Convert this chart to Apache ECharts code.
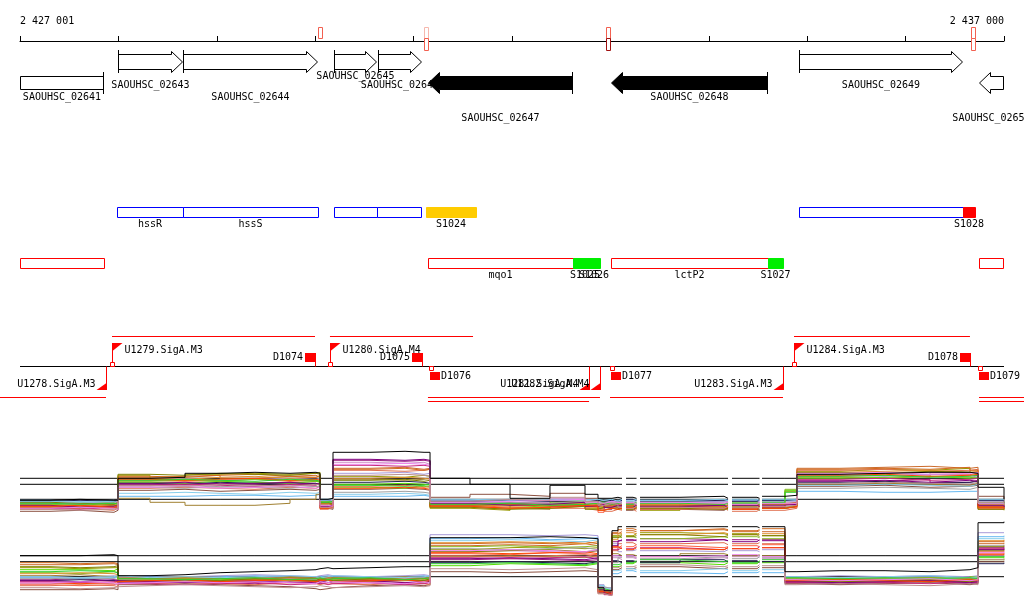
<!DOCTYPE html>
<html><head><meta charset="utf-8">
<script src="https://cdn.jsdelivr.net/npm/echarts@6/dist/echarts.min.js"></script>
<style>html,body{margin:0;padding:0;background:#fff}#c{width:1024px;height:611px}</style>
</head><body><div id="c"></div>
<script>
// ================= DATA =================
const scaleStart = 2427001, scaleEnd = 2437000, tickStep = 1000;

const geneNames   = ['SAOUHSC_02641','SAOUHSC_02643','SAOUHSC_02644','SAOUHSC_02645','SAOUHSC_02646','SAOUHSC_02647','SAOUHSC_02648','SAOUHSC_02649','SAOUHSC_02650'];
const geneStarts  = [2426700,2427996,2428657,2430191,2430638,2431147,2433006,2434917,2436746];
const geneEnds    = [2427854,2428657,2430029,2430628,2431086,2432620,2434602,2436583,2437300];
const geneStrands = ['-','+','+','+','+','-','-','+','-'];
const highlightedGenes = ['SAOUHSC_02647','SAOUHSC_02648'];

const signalPositions = [2430049,2431131,2432971,2436690];
const signalPlus      = [0.6,0.25,0.6,0.6];
const signalMinus     = [0,0.6,1.0,0.6];

const annotANames  = ['hssR','hssS','','','S1024','','S1028'];
const annotAStarts = [2427986,2428657,2430191,2430628,2431126,2434917,2436583];
const annotAEnds   = [2428657,2430029,2430628,2431075,2431634,2436583,2436705];
const annotAKinds  = ['cds','cds','cds','cds','sRNA_new','cds','sRNA_known'];

const annotBNames  = ['','mqo1','S1025','S1026','lctP2','S1027',''];
const annotBStarts = [2426700,2431146,2432620,2432772,2433006,2434602,2436746];
const annotBEnds   = [2427854,2432620,2432864,2432894,2434602,2434754,2437300];
const annotBKinds  = ['gene','gene','sRNA','sRNA','gene','sRNA','gene'];

const tuStrands = ['+','+','+','-','-','-','-','-','-'];
const tuStarts  = [2427935,2430150,2434866,2426700,2431146,2431146,2432996,2436746,2436746];
const tuEnds    = [2429998,2431604,2436654,2427874,2432894,2432783,2434754,2437400,2437400];

const promoterNames   = ['U1278.SigA.M3','U1279.SigA.M3','U1280.SigA.M4','U1281.SigA.M4','U1282.SigA.M4','U1283.SigA.M3','U1284.SigA.M3'];
const promoterPos     = [2427874,2427935,2430150,2432783,2432894,2434754,2434866];
const promoterStrands = ['-','+','+','-','-','-','+'];

const terminatorNames   = ['D1074','D1075','D1076','D1077','D1078','D1079'];
const terminatorPos     = [2429998,2431085,2431167,2433006,2436654,2436746];
const terminatorStrands = ['+','+','-','-','+','-'];

const exprPos = [2427000,2427305,2427610,2427955,2427996,2428321,2428677,2429033,2429388,2429744,2430008,2430049,2430130,2430181,2430557,2430913,2431106,2431167,2431573,2431980,2432386,2432742,2432874,2432935,2433016,2433077,2433159,2433230,2433301,2433707,2434155,2434236,2434490,2434541,2434774,2434896,2435333,2435791,2436248,2436654,2436736,2437000];
const exprGaps = [[2433077,2433159],[2433230,2433301],[2434155,2434236],[2434490,2434541]];
const refLevels = [10.0, 9.4, 7.9];

// forward strand (upper panel), log2 signal
const fwdBlack = [7.8,7.9,7.8,7.8, 10.0,10.1,10.5,10.6,10.5,10.6,10.5, 7.9,8.0, 12.6,12.7,12.6,12.6, 10.0,9.4,8.0,9.3,8.4,8.0,8.0,8.1, 8.0,8.1,8.0,8.1,8.2,8.0,8.1,8.0,8.2,8.3, 10.4,10.5,10.6,10.6,10.5, 9.1,7.9];
const fwd01 = [7.2,7.0,7.3,7.1, 10.1,10.2,10.3,10.0,10.2,10.3,10.1, 7.6,7.4, 11.0,11.1,10.9,11.0, 7.6,7.4,7.2,7.7,7.3,7.0,7.4,7.2, 7.3,7.5,7.2,7.4,7.1,7.3,7.4,7.2,7.5,7.8, 11.0,11.1,11.2,11.0,11.1, 7.5,7.3];
const fwd02 = [7.5,7.6,7.4,7.5, 10.3,9.9,10.4,10.5,10.4,10.5,10.6, 7.5,7.3, 10.2,10.1,10.3,10.2, 7.0,6.8,7.4,7.8,7.0,6.9,7.3,7.1, 6.9,7.1,7.0,6.8,7.2,6.9,7.0,6.8,7.1,8.7, 10.7,10.9,10.8,11.0,10.6, 7.0,6.8];
const fwd03 = [7.0,7.2,7.1,6.9, 9.4,9.3,9.5,9.4,9.6,9.5,9.4, 7.3,7.2, 11.8,11.7,11.8,11.7, 7.4,7.6,7.5,7.2,7.3,7.6,6.9,7.2, 7.4,7.2,7.3,7.1,7.4,7.2,7.3,7.4,7.2,7.5, 9.8,9.7,9.9,9.6,9.8, 7.2,7.0];
const fwd04 = [7.3,7.4,7.2,7.4, 9.8,9.7,9.8,9.9,9.7,9.8,9.6, 7.1,7.0, 9.2,9.3,9.1,9.2, 7.3,7.1,7.0,7.2,7.4,6.6,7.1,7.0, 7.1,7.0,7.2,7.0,6.9,7.1,7.0,7.2,7.0,7.1, 10.2,10.3,10.1,10.4,10.2, 7.0,6.9];
const fwd05 = [7.8,7.7,7.8,7.7, 8.2,8.2,8.3,8.3,8.2,8.3,8.4, 7.9,7.8, 8.2,8.2,8.3,8.2, 7.8,7.9,7.8,7.9,7.8,7.6,7.7,7.8, 7.8,7.7,7.8,7.8,7.7,7.8,7.8,7.7,7.8,7.8, 8.7,8.6,8.6,8.7,8.7, 7.8,7.7];
const fwd06 = [7.4,7.5,7.6,7.3, 9.6,9.5,9.7,9.6,9.5,9.7,9.6, 7.7,7.6, 9.4,9.5,9.4,9.3, 7.5,7.3,7.1,7.5,7.6,7.7,7.5,7.4, 7.5,7.6,7.5,7.6,7.4,7.5,7.6,7.5,7.6,8.8, 10.0,10.1,10.2,10.0,10.1, 7.6,7.4];
const fwd07 = [7.1,7.3,7.2,7.0, 9.2,9.3,9.1,9.2,9.3,9.2,9.1, 7.2,7.4, 11.6,11.5,11.6,11.4, 7.7,7.5,7.6,8.0,7.5,7.3,7.6,7.5, 7.6,7.4,7.6,7.5,7.6,7.7,7.5,7.6,7.4,7.6, 10.4,10.5,10.3,10.6,10.4, 7.4,7.6];
const fwd08 = [7.6,7.5,7.7,7.6, 9.9,10.0,9.8,9.9,10.0,9.9,10.0, 7.8,7.7, 10.5,10.6,10.4,10.5, 7.6,7.8,7.7,7.9,7.7,7.5,7.8,7.6, 7.7,7.6,7.7,7.6,7.7,7.6,7.7,7.6,7.7,7.7, 10.3,10.2,10.4,10.3,10.1, 7.7,7.5];
const fwd09 = [6.7,6.8,6.6,6.8, 8.8,8.9,8.7,8.8,8.9,8.8,8.9, 7.0,6.9, 8.9,9.0,8.9,8.8, 8.1,8.4,8.2,8.5,8.0,7.2,7.5,7.4, 7.0,6.8,7.0,6.9,6.8,7.0,6.9,6.8,7.0,7.2, 9.2,9.3,9.1,9.2,9.3, 8.2,7.1];
const fwd10 = [7.7,7.8,7.7,7.8, 9.5,9.4,9.6,9.5,9.4,9.5,9.3, 7.8,7.9, 9.6,9.7,9.6,9.5, 7.7,7.8,7.7,7.6,7.8,7.7,7.8,7.7, 7.8,7.9,7.8,7.7,7.8,7.9,7.7,7.8,7.8,7.9, 9.6,9.7,9.5,9.6,9.7, 7.8,7.8];
const fwd11 = [7.2,7.1,7.3,7.2, 8.0,7.6,7.3,7.3,7.5,7.9,8.4, 7.4,7.5, 9.9,9.8,9.9,10.0, 7.2,7.0,6.9,7.3,7.1,6.8,7.0,7.1, 7.2,7.3,7.1,7.2,7.3,7.1,7.2,7.3,7.1,7.3, 9.4,9.5,9.4,9.3,9.5, 7.1,7.2];
const fwd12 = [6.9,7.0,6.8,7.0, 9.0,9.1,9.0,8.9,9.1,9.0,9.2, 6.9,7.1, 10.8,10.7,10.8,10.9, 7.1,6.9,7.3,7.0,6.8,7.0,6.7,6.9, 6.8,6.9,6.7,6.9,7.0,6.8,6.7,6.9,6.8,7.0, 10.8,10.9,10.7,10.8,10.9, 6.9,7.1];
const fwd13 = [7.4,7.3,7.5,7.4, 9.7,9.8,9.7,9.9,9.8,9.7,9.9, 7.5,7.6, 9.1,9.0,9.2,9.1, 7.2,7.4,7.0,7.6,7.4,7.1,7.3,7.2, 7.3,7.2,7.4,7.3,7.2,7.4,7.3,7.2,7.4,8.9, 10.1,10.0,10.2,10.1,10.0, 7.3,7.5];
const fwd14 = [7.0,6.9,7.1,7.0, 9.3,9.4,9.3,9.2,9.4,9.3,9.5, 7.1,7.2, 11.3,11.2,11.3,11.2, 7.3,7.5,7.4,7.3,7.2,7.4,7.3,7.5, 7.2,7.4,7.3,7.1,7.3,7.2,7.4,7.3,7.1,7.4, 9.9,10.0,9.8,9.9,10.0, 7.2,7.3];
const fwd15 = [7.5,7.4,7.6,7.5, 9.1,9.0,9.2,9.1,9.0,9.2,9.1, 7.6,7.5, 8.6,8.7,8.6,8.5, 7.5,7.6,7.5,7.7,7.6,7.4,7.5,7.6, 7.5,7.4,7.5,7.6,7.5,7.4,7.5,7.6,7.5,7.6, 9.0,9.1,9.0,8.9,9.1, 7.5,7.4];
const fwd16 = [7.3,7.2,7.4,7.3, 10.0,9.9,10.1,10.2,10.0,10.1,10.2, 7.3,7.2, 10.0,10.1,10.0,9.9, 7.4,7.2,7.3,7.5,7.1,7.2,7.0,7.3, 7.4,7.3,7.2,7.4,7.3,7.2,7.4,7.3,7.2,7.5, 10.6,10.7,10.8,10.6,10.7, 7.4,7.2];
const fwd17 = [7.1,7.2,7.0,7.1, 10.2,10.1,10.3,10.4,10.2,10.1,10.3, 7.5,7.3, 10.9,11.0,10.8,10.9, 7.3,7.4,7.2,7.4,7.3,7.5,7.2,7.4, 7.2,7.3,7.1,7.3,7.2,7.3,7.1,7.2,7.4,7.6, 10.9,11.0,10.9,11.1,10.8, 7.2,7.1];
const fwd18 = [7.6,7.5,7.4,7.6, 10.4,10.3,10.5,10.4,10.3,10.5,10.4, 7.6,7.4, 9.8,9.9,9.7,9.8, 7.1,6.9,7.0,7.2,6.9,7.1,7.0,6.9, 7.0,6.9,7.1,7.0,6.9,7.0,7.1,6.9,7.0,7.2, 10.6,10.5,10.7,10.6,10.5, 6.9,7.0];
const fwd19 = [7.3,7.1,7.2,7.3, 9.5,9.6,9.4,9.5,9.6,9.4,9.5, 7.2,7.3, 11.9,11.8,11.9,11.8, 7.5,7.3,7.4,7.6,7.2,7.4,7.1,7.3, 7.3,7.1,7.3,7.2,7.3,7.1,7.3,7.2,7.3,7.4, 9.7,9.8,9.6,9.8,9.7, 7.3,7.1];
const fwd20 = [7.2,7.3,7.1,7.3, 9.9,9.8,9.9,10.0,9.8,9.9,9.8, 7.0,7.1, 9.0,9.1,9.0,8.9, 7.2,7.0,7.1,7.3,7.2,6.8,7.0,6.9, 7.0,7.1,6.9,7.1,7.0,7.1,6.9,7.1,7.0,7.2, 10.3,10.4,10.2,10.3,10.4, 7.1,7.0];
const fwd21 = [7.7,7.6,7.7,7.8, 8.5,8.6,8.5,8.4,8.6,8.5,8.6, 7.8,7.9, 8.4,8.5,8.4,8.3, 7.9,7.8,7.9,7.8,7.9,7.8,7.9,7.7, 7.9,7.8,7.9,7.8,7.9,7.8,7.9,7.8,7.9,7.9, 9.3,9.4,9.3,9.2,9.4, 7.9,7.8];
const fwd22 = [7.5,7.4,7.5,7.4, 9.8,9.9,9.8,9.7,9.9,9.8,9.7, 7.6,7.7, 9.3,9.2,9.3,9.4, 7.4,7.5,7.3,7.4,7.5,7.6,7.4,7.5, 7.5,7.4,7.6,7.5,7.4,7.6,7.5,7.4,7.6,8.6, 10.2,10.3,10.1,10.2,10.3, 7.5,7.6];
const fwd23 = [7.0,7.1,7.0,6.9, 9.1,9.2,9.0,9.1,9.2,9.0,9.1, 7.3,7.2, 11.4,11.5,11.4,11.3, 7.6,7.7,7.8,7.9,7.6,7.5,7.7,7.6, 7.5,7.6,7.4,7.6,7.5,7.6,7.4,7.6,7.5,7.5, 10.5,10.6,10.4,10.5,10.6, 7.5,7.4];
const fwd24 = [6.9,6.8,6.9,7.0, 9.3,9.2,9.4,9.3,9.2,9.4,9.3, 7.1,7.0, 10.3,10.4,10.3,10.2, 7.7,7.9,7.8,8.1,7.7,7.3,7.5,7.4, 7.1,7.0,7.2,7.1,7.0,7.2,7.1,7.0,7.2,7.3, 9.5,9.6,9.5,9.4,9.6, 7.6,7.3];

// reverse strand (lower panel), log2 signal
const revBlack = [10.0,10.0,10.1,10.0, 8.0,8.1,8.3,8.4,8.5,8.6,8.7,8.8,8.7,8.8,8.9,8.9,8.9, 11.8,11.8,11.9,11.8,11.7, 6.8,6.5, 12.5, 12.9,12.9,12.9,12.9,12.9,12.9,12.9,12.8,12.9, 8.4,8.5,8.5,8.4,8.6,8.8, 13.3,13.4];
const rev01 = [9.1,9.1,9.2,9.1, 7.8,7.7,7.9,7.8,7.7,7.8,7.9,7.8,7.7,7.8,7.9,7.8,7.9, 11.0,11.1,11.0,11.2,11.0, 6.4,6.2, 12.2, 12.4,12.5,12.4,12.5,12.6,12.5,12.4,12.5,12.4, 7.6,7.5,7.7,7.6,7.5,7.6, 11.2,11.3];
const rev02 = [8.8,8.7,8.8,8.8, 7.6,7.5,7.7,7.6,7.8,7.7,7.6,7.5,7.7,7.6,7.8,7.7,7.6, 10.6,10.8,10.9,10.7,10.8, 6.6,6.3, 12.0, 12.1,12.0,12.2,12.3,12.2,12.1,12.2,12.1,12.0, 7.4,7.6,7.5,7.4,7.6,7.5, 10.5,10.6];
const rev03 = [7.6,7.7,7.5,7.6, 7.3,7.4,7.3,7.2,7.4,7.3,7.2,7.3,7.4,7.3,7.2,7.4,7.3, 9.6,9.7,9.6,9.5,9.6, 6.7,6.4, 11.4, 11.6,11.5,11.6,11.7,11.6,11.5,11.6,11.5,11.6, 7.3,7.2,7.3,7.4,7.2,7.3, 10.8,10.9];
const rev04 = [7.1,7.0,7.1,7.2, 7.6,7.7,7.5,7.6,7.7,7.6,7.5,7.6,7.7,7.5,7.6,7.7,7.6, 10.2,10.1,10.3,10.2,10.1, 6.5,6.2, 10.8, 11.0,10.9,11.1,11.0,10.8,10.9,11.0,10.9,11.1, 7.5,7.4,7.5,7.6,7.4,7.5, 10.2,10.3];
const rev05 = [7.8,7.7,7.8,7.9, 7.9,7.8,7.9,8.0,7.9,7.8,7.9,8.0,7.9,7.8,7.9,8.0,7.9, 11.7,11.8,11.6,11.7,11.8, 7.0,6.6, 8.2, 8.4,8.5,8.4,8.3,8.2,8.4,8.3,8.4,8.3, 7.8,7.7,7.8,7.9,7.8,7.7, 11.9,12.0];
const rev06 = [8.6,8.6,8.5,8.7, 7.7,7.8,7.6,7.7,7.8,7.7,7.6,7.7,7.8,7.7,7.6,7.8,7.7, 9.0,9.2,9.1,9.0,9.2, 6.8,6.5, 8.9, 9.0,9.2,9.4,9.3,9.1,9.3,9.2,9.4,9.3, 7.7,7.8,7.7,7.8,7.7,7.8, 9.8,9.9];
const rev07 = [7.2,7.3,7.2,7.1, 7.4,7.5,7.4,7.3,7.5,7.4,7.3,7.5,7.4,7.3,7.5,7.4,7.5, 10.4,10.5,10.4,10.3,10.5, 6.9,6.6, 9.8, 9.6,9.8,9.7,9.6,9.8,9.7,9.9,9.8,9.7, 7.6,7.7,7.6,7.5,7.7,7.6, 10.0,10.1];
const rev08 = [7.9,7.8,8.0,7.9, 8.0,7.9,8.0,8.1,8.0,7.9,8.0,8.1,8.0,7.9,8.0,8.1,8.0, 12.1,12.1,12.0,12.1,12.0, 7.1,6.8, 11.2, 10.4,10.5,10.6,10.5,10.4,10.6,10.5,10.4,10.6, 7.9,8.0,7.9,8.0,7.9,8.0, 12.3,12.3];
const rev09 = [6.6,6.6,6.7,6.6, 7.1,7.2,7.1,7.0,6.9,6.7,6.6,6.7,6.8,7.0,7.1,7.0,7.1, 8.4,8.3,8.4,8.5,8.4, 6.3,6.1, 8.6, 8.8,8.7,8.8,8.9,8.7,8.8,8.7,8.9,8.8, 7.2,7.1,7.2,7.3,7.1,7.2, 9.4,9.5];
const rev10 = [7.5,7.6,7.5,7.4, 7.5,7.6,7.5,7.4,7.6,7.5,7.4,7.6,7.5,7.4,7.6,7.5,7.4, 9.3,9.4,9.3,9.2,9.4, 6.6,6.3, 9.5, 9.3,9.5,9.4,9.3,9.6,9.4,9.5,9.3,9.4, 7.5,7.4,7.6,7.5,7.4,7.5, 9.2,9.3];
const rev11 = [8.0,8.1,7.9,8.0, 7.8,7.9,7.8,7.7,7.9,7.8,7.7,7.9,7.8,7.7,7.9,7.8,7.7, 9.9,10.0,9.9,9.8,10.0, 6.7,6.4, 10.2, 10.0,10.1,10.0,9.9,10.2,10.1,10.0,10.1,10.0, 7.7,7.6,7.7,7.8,7.6,7.7, 10.6,10.7];
const rev12 = [7.0,7.1,7.0,6.9, 7.2,7.3,7.2,7.1,7.3,7.2,7.1,7.3,7.2,7.1,7.3,7.2,7.1, 10.0,9.9,10.0,10.1,9.9, 6.2,6.0, 10.5, 11.2,11.3,11.1,11.2,11.3,11.1,11.2,11.3,11.2, 7.4,7.3,7.4,7.5,7.3,7.4, 10.4,10.5];
const rev13 = [8.3,8.2,8.4,8.3, 7.6,7.7,7.8,7.7,7.6,7.7,7.8,7.7,7.6,7.7,7.8,7.7,7.6, 10.9,11.0,10.8,10.9,11.0, 6.7,6.4, 11.9, 11.8,11.9,11.8,11.7,11.9,11.8,11.9,11.8,11.7, 7.7,7.6,7.7,7.8,7.6,7.9, 9.6,9.7];
const rev14 = [7.4,7.3,7.4,7.5, 7.2,7.1,7.2,7.3,7.1,7.2,7.3,7.1,7.2,7.3,7.1,7.2,7.3, 9.8,9.7,9.8,9.9,9.7, 6.4,6.1, 10.6, 10.8,10.7,10.9,10.8,10.6,10.8,10.7,10.9,10.8, 7.3,7.4,7.3,7.2,7.4,7.3, 10.7,10.8];
const rev15 = [7.7,7.8,7.7,7.6, 7.7,7.6,7.7,7.8,7.7,7.6,7.7,7.8,7.7,7.6,7.7,7.8,7.7, 10.7,10.6,10.7,10.8,10.6, 6.9,6.7, 9.3, 9.8,9.9,9.8,9.7,9.9,9.8,9.7,9.9,9.8, 7.8,7.7,7.8,7.7,7.8,7.7, 11.0,11.1];
const rev16 = [8.2,8.3,8.2,8.1, 7.5,7.4,7.5,7.6,7.5,7.4,7.5,7.6,7.5,7.4,7.5,7.6,7.5, 11.3,11.4,11.3,11.2,11.4, 6.6,6.3, 11.6, 12.2,12.3,12.2,12.1,12.3,12.2,12.1,12.3,12.2, 7.6,7.5,7.6,7.7,7.5,7.6, 11.5,11.6];
const rev17 = [9.3,9.2,9.3,9.2, 7.7,7.8,7.7,7.6,7.8,7.7,7.6,7.8,7.7,7.6,7.8,7.7,7.8, 11.2,11.3,11.2,11.4,11.2, 6.5,6.3, 12.3, 12.6,12.7,12.6,12.5,12.7,12.6,12.5,12.6,12.7, 7.6,7.7,7.6,7.5,7.7,7.6, 11.4,11.5];
const rev18 = [8.9,8.8,8.9,9.0, 7.5,7.6,7.5,7.7,7.6,7.5,7.7,7.6,7.5,7.7,7.6,7.5,7.7, 10.4,10.5,10.6,10.4,10.5, 6.6,6.4, 11.8, 12.0,11.9,12.0,12.1,11.9,12.0,12.1,11.9,12.0, 7.5,7.4,7.5,7.6,7.4,7.5, 10.9,11.0];
const rev19 = [7.5,7.4,7.6,7.5, 7.4,7.3,7.4,7.5,7.3,7.4,7.5,7.3,7.4,7.5,7.3,7.4,7.5, 9.7,9.8,9.7,9.6,9.8, 6.6,6.3, 11.0, 11.5,11.6,11.5,11.4,11.6,11.5,11.4,11.6,11.5, 7.4,7.3,7.4,7.5,7.3,7.4, 10.6,10.7];
const rev20 = [7.3,7.2,7.3,7.4, 7.5,7.6,7.4,7.5,7.6,7.4,7.5,7.6,7.4,7.5,7.6,7.4,7.5, 10.3,10.2,10.3,10.4,10.2, 6.4,6.2, 10.9, 10.7,10.6,10.8,10.7,10.6,10.8,10.7,10.6,10.8, 7.5,7.6,7.5,7.4,7.6,7.5, 10.1,10.2];
const rev21 = [7.9,7.8,7.9,8.0, 7.8,7.9,7.8,7.9,8.0,7.9,7.8,7.9,8.0,7.9,7.8,7.9,8.0, 11.5,11.6,11.5,11.4,11.6, 7.0,6.7, 8.5, 8.6,8.7,8.6,8.5,8.7,8.6,8.5,8.7,8.6, 7.9,7.8,7.9,8.0,7.8,7.9, 11.7,11.8];
const rev22 = [8.4,8.5,8.4,8.3, 7.7,7.6,7.7,7.8,7.6,7.7,7.8,7.6,7.7,7.8,7.6,7.7,7.8, 9.2,9.3,9.2,9.1,9.3, 6.7,6.5, 9.1, 9.2,9.3,9.5,9.6,9.4,9.5,9.3,9.5,9.6, 7.8,7.7,7.8,7.7,7.8,7.7, 9.9,10.0];
const rev23 = [7.3,7.4,7.3,7.2, 7.3,7.4,7.3,7.4,7.3,7.2,7.4,7.3,7.4,7.3,7.2,7.4,7.3, 10.5,10.6,10.5,10.4,10.6, 6.8,6.5, 10.0, 9.9,10.0,9.8,9.9,10.0,9.9,10.1,10.0,9.9, 7.6,7.5,7.6,7.7,7.5,7.6, 10.3,10.4];
const rev24 = [6.8,6.7,6.8,6.9, 7.0,7.1,7.0,6.9,6.8,6.9,7.0,6.9,6.8,6.9,7.0,6.9,7.0, 8.7,8.6,8.7,8.8,8.6, 6.2,6.0, 8.8, 9.0,8.9,9.0,9.1,8.9,9.0,8.9,9.1,9.0, 7.1,7.2,7.1,7.0,7.2,7.1, 9.6,9.7];

// ================= STYLE / LAYOUT =================
const FONT = '10px "DejaVu Sans Mono", "Liberation Mono", monospace';
const PALETTE = ['#cc6a2a','#999900','#9b1b80','#ff6040','#66b8f0','#55dd00','#d090c8','#a89ad8','#8b5040','#202050','#a08030','#e07050','#88bb22','#c8287a','#a0a0a0','#e09030',
                 '#d2691e','#808000','#800080','#ff4500','#87ceeb','#32cd32','#ee82ee','#bc8f8f'];
const GENE_LABEL_Y = [97, 85, 97, 76, 85, 118, 97, 85, 118];
const axisMin = scaleStart - 1, axisMax = scaleEnd;
const fmt = n => String(n).replace(/\B(?=(\d{3})+(?!\d))/g, ' ');

function txt(text, x, y, align) {
  return { type: 'text', silent: true, style: { text, x, y, fill: '#000', font: FONT, align: align || 'center', verticalAlign: 'middle', textAlign: align || 'center', textVerticalAlign: 'middle' } };
}
function bounds(params) { const c = params.coordSys; return [c.x, c.x + c.width]; }

// ----- gene track -----
function renderGene(params, api) {
  const i = api.value(2);
  const [L, R] = bounds(params);
  const s = api.coord([api.value(0), 0])[0], e = api.coord([api.value(1), 0])[0];
  const x1 = Math.round(Math.max(s, L)) + 0.5, x2 = Math.round(Math.min(e, R)) - 0.5;
  const cut5 = geneStrands[i] === '+' ? s < L : e > R;
  const cut3 = geneStrands[i] === '+' ? e > R : s < L;
  const fill = highlightedGenes.includes(geneNames[i]) ? '#000' : '#fff';
  const st = { fill, stroke: '#000', lineWidth: 1 };
  const kids = [];
  const head = 11;
  let pts;
  if (geneStrands[i] === '+') {
    const b1 = 54.5, b2 = 69.5, h1 = 51.5, h2 = 72.5, m = 62;
    if (cut3) pts = [[x1,b1],[x2,b1],[x2,b2],[x1,b2]];
    else pts = [[x1,b1],[x2-head,b1],[x2-head,h1],[x2,m],[x2-head,h2],[x2-head,b2],[x1,b2]];
    kids.push({ type: 'polygon', shape: { points: pts }, style: st });
    if (!cut5) kids.push({ type: 'line', shape: { x1: x1, y1: 50, x2: x1, y2: 73 }, style: { stroke: '#000', lineWidth: 1 } });
  } else {
    const b1 = 76.5, b2 = 89.5, h1 = 72.5, h2 = 93.5, m = 83;
    if (cut3) pts = [[x1,b1],[x2,b1],[x2,b2],[x1,b2]];
    else pts = [[x2,b1],[x1+head,b1],[x1+head,h1],[x1,m],[x1+head,h2],[x1+head,b2],[x2,b2]];
    kids.push({ type: 'polygon', shape: { points: pts }, style: st });
    if (!cut5) kids.push({ type: 'line', shape: { x1: x2, y1: 72, x2: x2, y2: 94 }, style: { stroke: '#000', lineWidth: 1 } });
  }
  kids.push(txt(geneNames[i], (x1 + x2) / 2, GENE_LABEL_Y[i]));
  return { type: 'group', children: kids };
}

// ----- signal markers on the scale -----
function markerColor(v) { return v >= 0.9 ? '#a01010' : v >= 0.5 ? '#f26050' : '#f6b8ae'; }
function renderSignal(params, api) {
  const i = api.value(1);
  const x = Math.round(api.coord([api.value(0), 0])[0]) - 1.5;
  const kids = [];
  if (signalPlus[i] > 0) kids.push({ type: 'rect', shape: { x, y: 27.5, width: 4, height: 11 }, style: { fill: '#fff', stroke: markerColor(signalPlus[i]), lineWidth: 1 } });
  if (signalMinus[i] > 0) kids.push({ type: 'rect', shape: { x, y: 38.5, width: 4, height: 12 }, style: { fill: '#fff', stroke: markerColor(signalMinus[i]), lineWidth: 1 } });
  return { type: 'group', children: kids };
}

// ----- annotation boxes -----
const KIND_STYLE = {
  cds: { fill: '#fff', stroke: '#0000ff', lineWidth: 1 },
  sRNA_new: { fill: '#ffcc00', stroke: '#ffcc00', lineWidth: 1 },
  sRNA_known: { fill: '#ff0000', stroke: '#ff0000', lineWidth: 1 },
  gene: { fill: '#fff', stroke: '#ff0000', lineWidth: 1 },
  sRNA: { fill: '#00ee00', stroke: '#00ee00', lineWidth: 1 }
};
function makeAnnotRenderer(names, kinds, yTop, labelY) {
  return function (params, api) {
    const i = api.value(2);
    const [L, R] = bounds(params);
    const x1 = Math.max(Math.round(api.coord([api.value(0), 0])[0]), L);
    const x2 = Math.min(Math.round(api.coord([api.value(1), 0])[0]), R - 1);
    const kids = [{ type: 'rect', shape: { x: x1 + 0.5, y: yTop + 0.5, width: x2 - x1, height: 10 }, style: Object.assign({}, KIND_STYLE[kinds[i]]) }];
    if (names[i]) kids.push(txt(names[i], (x1 + x2) / 2, labelY));
    return { type: 'group', children: kids };
  };
}

// ----- transcription units, promoters, terminators -----
const BASE = 366.5;
function renderTU(params, api) {
  const i = api.value(2), lane = api.value(3);
  const x1 = api.coord([api.value(0), 0])[0], x2 = api.coord([api.value(1), 0])[0];
  const y = tuStrands[i] === '+' ? 336.5 : 397.5 + lane * 4;
  return { type: 'line', shape: { x1, y1: y, x2, y2: y }, style: { stroke: '#ff0000', lineWidth: 1 } };
}
function renderPromoter(params, api) {
  const i = api.value(1);
  const x = Math.round(api.coord([api.value(0), 0])[0]) + 0.5;
  const red = '#ff0000', kids = [];
  if (promoterStrands[i] === '+') {
    kids.push({ type: 'line', shape: { x1: x, y1: 343, x2: x, y2: BASE }, style: { stroke: red, lineWidth: 1 } });
    kids.push({ type: 'polygon', shape: { points: [[x,343],[x+10,343],[x,351]] }, style: { fill: red } });
    kids.push({ type: 'rect', shape: { x: x - 2, y: 362.5, width: 4, height: 4 }, style: { fill: '#fff', stroke: red, lineWidth: 1 } });
    kids.push(txt(promoterNames[i], x + 12, 350, 'left'));
  } else {
    kids.push({ type: 'line', shape: { x1: x, y1: BASE, x2: x, y2: 390 }, style: { stroke: red, lineWidth: 1 } });
    kids.push({ type: 'polygon', shape: { points: [[x,390],[x-10,390],[x,383]] }, style: { fill: red } });
    kids.push(txt(promoterNames[i], x - 11, 384, 'right'));
  }
  return { type: 'group', children: kids };
}
function renderTerminator(params, api) {
  const i = api.value(1);
  const x = Math.round(api.coord([api.value(0), 0])[0]);
  const red = '#ff0000', kids = [];
  if (terminatorStrands[i] === '+') {
    kids.push({ type: 'rect', shape: { x: x - 10, y: 353, width: 10, height: 9 }, style: { fill: red } });
    kids.push({ type: 'line', shape: { x1: x + 0.5, y1: 353, x2: x + 0.5, y2: BASE }, style: { stroke: red, lineWidth: 1 } });
    kids.push(txt(terminatorNames[i], x - 12, 357, 'right'));
  } else {
    kids.push({ type: 'rect', shape: { x: x - 0.5, y: 366.5, width: 4, height: 4 }, style: { fill: '#fff', stroke: red, lineWidth: 1 } });
    kids.push({ type: 'rect', shape: { x: x, y: 372, width: 10, height: 8 }, style: { fill: red } });
    kids.push(txt(terminatorNames[i], x + 11, 376, 'left'));
  }
  return { type: 'group', children: kids };
}

// lane assignment for transcription units of each strand (greedy)
const tuLanes = [];
['+', '-'].forEach(sd => {
  const laneEnds = [];
  tuStarts.forEach((s, i) => {
    if (tuStrands[i] !== sd) return;
    let l = laneEnds.findIndex(e => e < s);
    if (l < 0) { l = laneEnds.length; laneEnds.push(tuEnds[i]); } else laneEnds[l] = tuEnds[i];
    tuLanes[i] = l;
  });
});

// expression lines with missing-probe gaps
function withGaps(vals) {
  const out = [];
  exprPos.forEach((p, i) => {
    out.push([p, vals[i]]);
    const g = exprGaps.find(g => g[0] === p);
    if (g) out.push([(g[0] + g[1]) / 2, '-']);
  });
  return out;
}
function lineSeries(vals, color, xi, yi, z, name) {
  return { type: 'line', name, xAxisIndex: xi, yAxisIndex: yi, data: withGaps(vals), step: 'end', showSymbol: false, symbol: 'none', silent: true, z,
    lineStyle: { color, width: 1 }, itemStyle: { color }, connectNulls: false, animation: false };
}

const fwdSeries = [fwd01,fwd02,fwd03,fwd04,fwd05,fwd06,fwd07,fwd08,fwd09,fwd10,fwd11,fwd12,fwd13,fwd14,fwd15,fwd16,fwd17,fwd18,fwd19,fwd20,fwd21,fwd22,fwd23,fwd24];
const revSeries = [rev01,rev02,rev03,rev04,rev05,rev06,rev07,rev08,rev09,rev10,rev11,rev12,rev13,rev14,rev15,rev16,rev17,rev18,rev19,rev20,rev21,rev22,rev23,rev24];

const series = [];
series.push({ type: 'custom', name: 'signals', xAxisIndex: 2, yAxisIndex: 1, clip: false, renderItem: renderSignal,
  data: signalPositions.map((p, i) => [p, i]), encode: { x: 0 }, z: 5 });
series.push({ type: 'custom', name: 'genes', xAxisIndex: 2, yAxisIndex: 1, clip: false, renderItem: renderGene,
  data: geneNames.map((n, i) => [geneStarts[i], geneEnds[i], i]), encode: { x: [0, 1] }, z: 3 });
series.push({ type: 'custom', name: 'annotA', xAxisIndex: 2, yAxisIndex: 1, clip: false, renderItem: makeAnnotRenderer(annotANames, annotAKinds, 207, 224),
  data: annotANames.map((n, i) => [annotAStarts[i], annotAEnds[i], i]), encode: { x: [0, 1] }, z: 3 });
series.push({ type: 'custom', name: 'annotB', xAxisIndex: 2, yAxisIndex: 1, clip: false, renderItem: makeAnnotRenderer(annotBNames, annotBKinds, 258, 275),
  data: annotBNames.map((n, i) => [annotBStarts[i], annotBEnds[i], i]), encode: { x: [0, 1] }, z: 3 });
series.push({ type: 'custom', name: 'baseline', xAxisIndex: 2, yAxisIndex: 1, clip: false,
  renderItem: (params, api) => { const [L, R] = bounds(params); return { type: 'line', shape: { x1: L, y1: BASE, x2: R, y2: BASE }, style: { stroke: '#000', lineWidth: 1 } }; },
  data: [[axisMin]], encode: { x: 0 }, z: 2 });
series.push({ type: 'custom', name: 'TU', xAxisIndex: 2, yAxisIndex: 1, clip: false, renderItem: renderTU,
  data: tuStarts.map((s, i) => [s, tuEnds[i], i, tuLanes[i]]), encode: { x: [0, 1] }, z: 3 });
series.push({ type: 'custom', name: 'promoters', xAxisIndex: 2, yAxisIndex: 1, clip: false, renderItem: renderPromoter,
  data: promoterPos.map((p, i) => [p, i]), encode: { x: 0 }, z: 4 });
series.push({ type: 'custom', name: 'terminators', xAxisIndex: 2, yAxisIndex: 1, clip: false, renderItem: renderTerminator,
  data: terminatorPos.map((p, i) => [p, i]), encode: { x: 0 }, z: 4 });

[[3, 2, fwdSeries, fwdBlack], [4, 3, revSeries, revBlack]].forEach(([xi, yi, arr, blk], k) => {
  refLevels.forEach((lv, j) => series.push(lineSeries(exprPos.map(() => lv), '#000', xi, yi, 1, 'ref' + k + j)));
  arr.forEach((vals, j) => series.push(lineSeries(vals, PALETTE[j], xi, yi, 2, 'cond' + (j + 1))));
  series.push(lineSeries(blk, '#000', xi, yi, 3, 'reference sample'));
});

const xBase = { type: 'value', min: axisMin, max: axisMax, interval: tickStep, splitLine: { show: false } };
const option = {
  backgroundColor: '#fff',
  animation: false,
  grid: [
    { left: 20, right: 20, top: 38, height: 3 },
    { left: 20, right: 20, top: 0, height: 611 },
    { left: 20, right: 20, top: 438.3, height: 80 },
    { left: 20, right: 20, top: 515.7, height: 80 }
  ],
  xAxis: [
    Object.assign({}, xBase, { gridIndex: 0, position: 'top', axisLine: { show: true, lineStyle: { color: '#000', width: 1 } }, axisTick: { show: false },
      axisLabel: { show: true, margin: 12, color: '#000', fontFamily: '"DejaVu Sans Mono", monospace', fontSize: 10, showMinLabel: true, showMaxLabel: true,
        alignMinLabel: 'left', alignMaxLabel: 'right',
        formatter: v => v === axisMin ? fmt(scaleStart) : (v === axisMax ? fmt(scaleEnd) : '') } }),
    Object.assign({}, xBase, { gridIndex: 0, position: 'bottom', axisLine: { show: false }, axisTick: { show: true, inside: true, length: 5, lineStyle: { color: '#000', width: 1 } }, axisLabel: { show: false } }),
    Object.assign({}, xBase, { gridIndex: 1, show: false }),
    Object.assign({}, xBase, { gridIndex: 2, show: false }),
    Object.assign({}, xBase, { gridIndex: 3, show: false })
  ],
  yAxis: [
    { gridIndex: 0, type: 'value', show: false, min: 0, max: 1 },
    { gridIndex: 1, type: 'value', show: false, min: 0, max: 611, inverse: true },
    { gridIndex: 2, type: 'value', show: false, min: 6, max: 14 },
    { gridIndex: 3, type: 'value', show: false, min: 6, max: 14 }
  ],
  series
};
const chart = echarts.init(document.getElementById('c'), null, { renderer: 'canvas' });
chart.setOption(option);
</script></body></html>
